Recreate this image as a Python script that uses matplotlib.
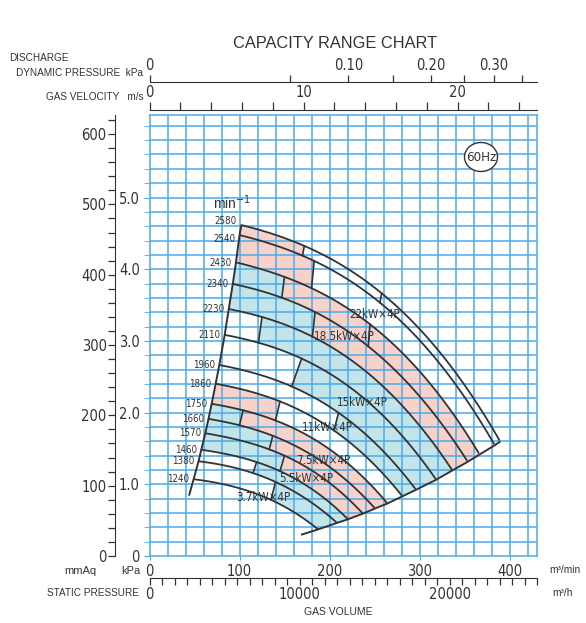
import numpy as np
import matplotlib
matplotlib.use("Agg")
import matplotlib.pyplot as plt
from matplotlib.patches import Polygon, Ellipse
from matplotlib.ticker import FixedLocator, FuncFormatter

plt.rcParams['font.family'] = ['Liberation Sans', 'DejaVu Sans']
NARROW = ['DejaVu Sans']
NK = dict(family=NARROW, stretch='condensed')

# ---------------- data ----------------
speeds = [2580, 2540, 2430, 2340, 2230, 2110, 1960, 1860, 1750, 1660, 1570, 1460, 1380, 1240]

# gas volume (m3/min) along each speed curve
curve_q = [
    [102, 175, 260, 330, 367, 389],
    [100, 172, 256, 325, 361, 383],
    [96, 165, 245, 311, 346, 366],
    [92.5, 159, 236, 299, 333, 353],
    [88, 151, 225, 285, 317, 336],
    [83.5, 143, 213, 270, 300, 318],
    [77.5, 133, 197.5, 251, 279, 295.5],
    [73.5, 126, 187.5, 238, 264.5, 280.5],
    [69, 119, 176.5, 224, 249, 264],
    [65.5, 112.5, 167, 212, 236, 250],
    [62, 106.5, 158, 201, 223, 237],
    [57.5, 99, 147, 187, 208, 220],
    [54.5, 93.5, 139, 176.5, 196, 208],
    [49, 84, 125, 158.5, 176.5, 187],
]
# static pressure (kPa) along each speed curve
curve_p = [
    [4.61, 4.33, 3.61, 2.74, 2.09, 1.59],
    [4.47, 4.20, 3.50, 2.66, 2.03, 1.54],
    [4.09, 3.84, 3.20, 2.43, 1.85, 1.41],
    [3.79, 3.56, 2.97, 2.25, 1.72, 1.31],
    [3.44, 3.24, 2.70, 2.05, 1.56, 1.19],
    [3.08, 2.90, 2.42, 1.83, 1.40, 1.06],
    [2.66, 2.50, 2.08, 1.58, 1.21, 0.92],
    [2.40, 2.25, 1.88, 1.42, 1.09, 0.83],
    [2.12, 1.99, 1.66, 1.26, 0.96, 0.73],
    [1.91, 1.79, 1.49, 1.13, 0.87, 0.66],
    [1.71, 1.60, 1.34, 1.02, 0.77, 0.59],
    [1.48, 1.39, 1.16, 0.88, 0.67, 0.51],
    [1.32, 1.24, 1.03, 0.78, 0.60, 0.46],
    [1.07, 1.00, 0.83, 0.63, 0.48, 0.37],
]
# extensions of the boundary lines below the lowest curve
left_ext_q, left_ext_p = [49, 44.2], [1.07, 0.855]
right_ext_q, right_ext_p = [187, 169.4], [0.37, 0.30]

# dividers inside each band (gas volume on upper curve, on lower curve) and segment colours
band_div_top = [[172, 258], [183], [150, 245], [184], [125], [169], [210], [145], [104], [137], [150], [119], [140]]
band_div_bot = [[170, 256], [180], [147, 243], [181], [121], [158], [205], [140], [100], [133], [145], [115], [135]]
band_cols = [['P', 'W', 'W'], ['P', 'W'], ['B', 'P', 'P'], ['B', 'P'], ['W', 'B'], ['W', 'B'], ['W', 'B'],
             ['P', 'W'], ['B', 'P'], ['B', 'P'], ['B', 'P'], ['W', 'B'], ['W', 'B']]

motor_labels = ["22kW×4P", "18.5kW×4P", "15kW×4P", "11kW×4P", "7.5kW×4P", "5.5kW×4P", "3.7kW×4P"]
motor_q = [250.6, 217, 236, 198, 193, 174, 126]
motor_p = [3.37, 3.06, 2.14, 1.79, 1.33, 1.075, 0.82]

vol_ticks = [0, 100, 200, 300, 400]
kpa_ticks = [0, 1, 2, 3, 4, 5]
mmaq_ticks = [0, 100, 200, 300, 400, 500, 600]
vel_labels = [0, 10, 20]
dyn_labels = [0, 0.10, 0.20, 0.30]
m3h_labels = [0, 10000, 20000]

# ---------------- styling ----------------
GRID = '#4aaaea'
INK = '#333333'
FILL = {'P': '#f8d2c9', 'B': '#c3e5ea'}
TFS = 10.5

W, H = 586, 623
x0, x1, y0, y1 = 149.5, 537.0, 556.0, 115.0
PX_Q, PX_P = 0.9, 71.7
QMAX = (x1 - x0) / PX_Q
PMAX = (y0 - y1) / PX_P

fig = plt.figure(figsize=(W / 100, H / 100), dpi=100)
ax = fig.add_axes([x0 / W, 1 - y0 / H, (x1 - x0) / W, (y0 - y1) / H])
ax.set_xlim(0, QMAX)
ax.set_ylim(0, PMAX)
for s in ax.spines.values():
    s.set_color(GRID)
    s.set_linewidth(1.1)

# grid
ax.vlines(np.arange(20, QMAX, 20), 0, PMAX, color=GRID, lw=1.1, zorder=1)
ax.hlines(np.arange(0.2, PMAX, 0.2), 0, QMAX, color=GRID, lw=1.1, zorder=1)

ax.set_xticks(vol_ticks)
ax.set_xticklabels([str(v) for v in vol_ticks], fontsize=TFS, color=INK, **NK)
ax.tick_params(axis='x', length=3, color=GRID, pad=3)
ax.set_yticks(kpa_ticks)
ax.set_yticklabels(['0'] + ['%.1f' % v for v in kpa_ticks[1:]], fontsize=TFS, color=INK, **NK)
ax.set_yticks(np.arange(0, PMAX, 0.2), minor=True)
ax.tick_params(axis='y', which='both', length=4, color=GRID, pad=3)

# curve evaluation
fits = [np.poly1d(np.polyfit(q, p, 3)) for q, p in zip(curve_q, curve_p)]

def seg(i, a, b, n=40):
    qq = np.linspace(a, b, n)
    return qq, fits[i](qq)

# bands
for b in range(len(speeds) - 1):
    tops = [curve_q[b][0]] + band_div_top[b] + [curve_q[b][-1]]
    bots = [curve_q[b + 1][0]] + band_div_bot[b] + [curve_q[b + 1][-1]]
    for k, c in enumerate(band_cols[b]):
        uq, up = seg(b, tops[k], tops[k + 1])
        lq, lp = seg(b + 1, bots[k], bots[k + 1])
        if c in FILL:
            poly = np.column_stack([np.r_[uq, lq[::-1]], np.r_[up, lp[::-1]]])
            ax.add_patch(Polygon(poly, closed=True, fc=FILL[c], ec='none', zorder=0.5))
    for t, bo in zip(band_div_top[b], band_div_bot[b]):
        ax.plot([t, bo], [fits[b](t), fits[b + 1](bo)], color=INK, lw=1.2, zorder=3)

# speed curves
for i, n in enumerate(speeds):
    qq, pp = seg(i, curve_q[i][0], curve_q[i][-1], 80)
    ax.plot(qq, pp, color=INK, lw=1.3, zorder=3, solid_capstyle='butt')
    dy = 0.06 if n == 2580 else (-0.05 if n == 2540 else 0)
    ax.text(curve_q[i][0] - 5.0, curve_p[i][0] + dy, str(n), ha='right', va='center',
            fontsize=7, color=INK, zorder=4, **NK)

# boundary lines
lq = [c[0] for c in curve_q] + left_ext_q[1:]
lp = [c[0] for c in curve_p] + left_ext_p[1:]
ax.plot(lq, lp, color=INK, lw=1.4, zorder=3)
rq = [c[-1] for c in curve_q] + right_ext_q[1:]
rp = [c[-1] for c in curve_p] + right_ext_p[1:]
ax.plot(rq, rp, color=INK, lw=1.4, zorder=3)

for lab, q, p in zip(motor_labels, motor_q, motor_p):
    ax.text(q, p, lab, ha='center', va='center', fontsize=8.3, color=INK, zorder=4, **NK)

ax.text((232 - x0) / PX_Q, (y0 - 203) / PX_P, 'min$^{-1}$', ha='center', va='center',
        fontsize=10, color=INK, zorder=4)
ex, ey = (481 - x0) / PX_Q, (y0 - 157) / PX_P
ax.add_patch(Ellipse((ex, ey), 33 / PX_Q, 29 / PX_P, fc='white', ec=INK, lw=1.0, zorder=4))
ax.text(ex, ey, '60Hz', ha='center', va='center', fontsize=9.5, color=INK, zorder=5, **NK)

# ---------------- secondary scales ----------------
K_V = 17.12  # m3/min per m/s
def q2v(q): return np.asarray(q) / K_V
def v2q(v): return np.asarray(v) * K_V
def q2pd(q):
    v = np.asarray(q) / K_V
    return np.sign(v) * 0.0006 * v ** 2
def pd2q(pd):
    pd = np.asarray(pd)
    return np.sign(pd) * np.sqrt(np.abs(pd) / 0.0006) * K_V

def style_labels(labels):
    for t in labels:
        t.set_family(NARROW)
        t.set_stretch('condensed')

vel = ax.secondary_xaxis((y0 - 110) / (y0 - y1), functions=(q2v, v2q))
vel.xaxis.set_major_locator(FixedLocator(np.arange(0, 26, 2)))
vel.xaxis.set_major_formatter(FuncFormatter(lambda v, p: ('%d' % v) if int(round(v)) in vel_labels else ''))
vel.tick_params(length=6, width=0.9, color=INK, labelsize=TFS, labelcolor=INK, pad=1.5)
vel.spines['top'].set_color(INK)
style_labels(vel.get_xticklabels())

dyn = ax.secondary_xaxis((y0 - 82) / (y0 - y1), functions=(q2pd, pd2q))
dyn.xaxis.set_major_locator(FixedLocator(np.arange(0, 0.38, 0.05)))
def dynfmt(v, p):
    for d in dyn_labels:
        if abs(v - d) < 1e-6:
            return '0' if d == 0 else '%.2f' % d
    return ''
dyn.xaxis.set_major_formatter(FuncFormatter(dynfmt))
dyn.tick_params(length=5, width=0.9, color=INK, labelsize=TFS, labelcolor=INK, pad=1.5)
dyn.spines['top'].set_color(INK)
style_labels(dyn.get_xticklabels())

m3h = ax.secondary_xaxis(-(578 - y0) / (y0 - y1), functions=(lambda q: np.asarray(q) * 60, lambda h: np.asarray(h) / 60))
m3h.xaxis.set_major_locator(FixedLocator(np.arange(0, 26000, 10000 / 12)))
m3h.xaxis.set_major_formatter(FuncFormatter(lambda v, p: ('%d' % round(v)) if any(abs(v - m) < 1 for m in m3h_labels) else ''))
m3h.tick_params(length=5, width=0.9, color=INK, labelsize=TFS, labelcolor=INK, pad=1.5)
m3h.spines['bottom'].set_color(INK)
style_labels(m3h.get_xticklabels())

mm = ax.secondary_yaxis(-(x0 - 115) / (x1 - x0), functions=(lambda p: np.asarray(p) * 101.97, lambda m: np.asarray(m) / 101.97))
mm.yaxis.set_major_locator(FixedLocator(np.arange(0, 630, 20)))
mm.yaxis.set_major_formatter(FuncFormatter(lambda v, p: ('%d' % round(v)) if any(abs(v - m) < 0.5 for m in mmaq_ticks) else ''))
mm.tick_params(length=5, width=0.9, color=INK, labelsize=TFS, labelcolor=INK, pad=1)
mm.spines['left'].set_color(INK)
style_labels(mm.get_yticklabels())

# ---------------- figure texts ----------------
def ftext(px, py, s, **kw):
    fig.text(px / W, 1 - py / H, s, color=INK, **kw)

ftext(335, 43, 'CAPACITY RANGE CHART', ha='center', va='center', fontsize=11.8)
ftext(9, 58, 'DISCHARGE', ha='left', va='center', fontsize=7.2)
ftext(143, 73, 'DYNAMIC PRESSURE  kPa', ha='right', va='center', fontsize=7.2)
ftext(143, 97, 'GAS VELOCITY   m/s', ha='right', va='center', fontsize=7.2)
ftext(80, 571, 'mmAq', ha='center', va='center', fontsize=8)
ftext(131, 571, 'kPa', ha='center', va='center', fontsize=8)
ftext(565, 570, 'm³/min', ha='center', va='center', fontsize=7.3)
ftext(139, 593, 'STATIC PRESSURE', ha='right', va='center', fontsize=7.2)
ftext(563, 593, 'm³/h', ha='center', va='center', fontsize=7.3)
ftext(338, 612, 'GAS VOLUME', ha='center', va='center', fontsize=7.5)

fig.savefig('out.png', dpi=100)
